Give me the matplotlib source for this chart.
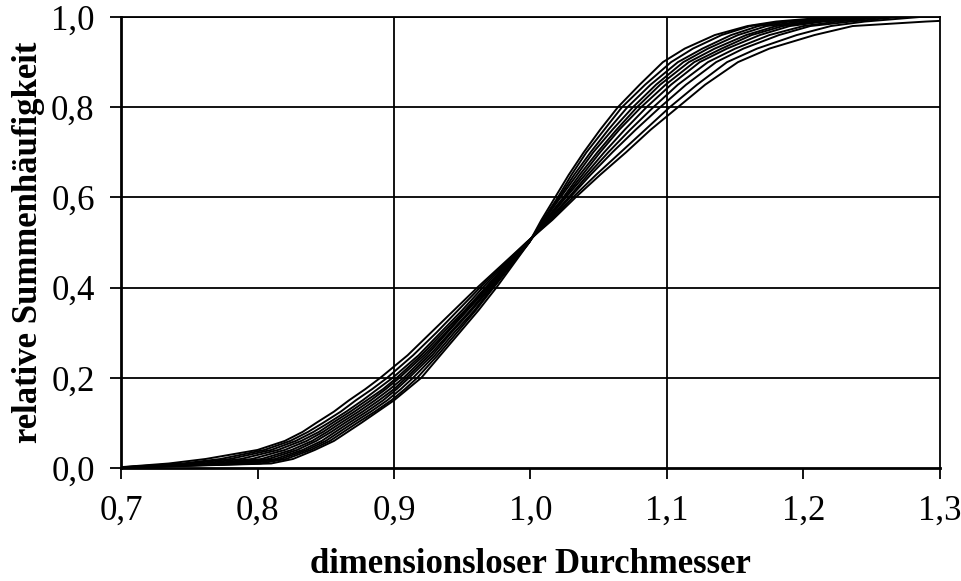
import matplotlib
matplotlib.use("Agg")
import matplotlib.pyplot as plt

# cumulative levels at which the diameter of each run was read
levels = [0.0, 0.01, 0.02, 0.04, 0.06, 0.08, 0.10, 0.125, 0.15, 0.175, 0.20, 0.25, 0.30, 0.35,
          0.40, 0.45, 0.50, 0.55, 0.60, 0.65, 0.70, 0.75, 0.80, 0.85, 0.90, 0.93, 0.96, 0.98,
          0.99, 1.0]

# dimensionless diameter d/d50 of each run at these levels
run_1 = [0.692, 0.735, 0.762, 0.800, 0.820, 0.833, 0.843, 0.856, 0.867, 0.879, 0.890, 0.910, 0.927, 0.944,
         0.961, 0.979, 0.997, 1.016, 1.033, 1.051, 1.070, 1.088, 1.108, 1.128, 1.152, 1.175, 1.208, 1.236,
         1.290, 1.360]
run_2 = [0.692, 0.745, 0.773, 0.805, 0.824, 0.837, 0.848, 0.861, 0.872, 0.884, 0.895, 0.914, 0.931, 0.947,
         0.963, 0.980, 0.997, 1.015, 1.031, 1.048, 1.066, 1.084, 1.102, 1.122, 1.144, 1.166, 1.195, 1.220,
         1.245, 1.285]
run_3 = [0.692, 0.752, 0.780, 0.810, 0.828, 0.841, 0.852, 0.865, 0.877, 0.888, 0.899, 0.918, 0.934, 0.950,
         0.965, 0.981, 0.998, 1.014, 1.029, 1.044, 1.060, 1.077, 1.095, 1.114, 1.136, 1.156, 1.182, 1.205,
         1.235, 1.270]
run_4 = [0.692, 0.760, 0.788, 0.815, 0.832, 0.845, 0.855, 0.868, 0.880, 0.892, 0.902, 0.920, 0.936, 0.952,
         0.967, 0.982, 0.998, 1.013, 1.028, 1.042, 1.057, 1.073, 1.090, 1.108, 1.130, 1.150, 1.175, 1.200,
         1.225, 1.260]
run_5 = [0.692, 0.768, 0.796, 0.820, 0.836, 0.848, 0.858, 0.871, 0.883, 0.894, 0.904, 0.922, 0.938, 0.953,
         0.968, 0.983, 0.998, 1.012, 1.026, 1.040, 1.054, 1.069, 1.085, 1.103, 1.124, 1.144, 1.168, 1.190,
         1.215, 1.255]
run_6 = [0.692, 0.775, 0.803, 0.825, 0.840, 0.851, 0.861, 0.874, 0.886, 0.897, 0.907, 0.924, 0.939, 0.954,
         0.969, 0.984, 0.998, 1.012, 1.025, 1.038, 1.051, 1.065, 1.081, 1.099, 1.120, 1.140, 1.162, 1.185,
         1.210, 1.250]
run_7 = [0.692, 0.782, 0.808, 0.829, 0.843, 0.854, 0.864, 0.877, 0.889, 0.900, 0.909, 0.926, 0.941, 0.956,
         0.970, 0.984, 0.998, 1.011, 1.024, 1.036, 1.049, 1.063, 1.078, 1.095, 1.116, 1.135, 1.158, 1.180,
         1.205, 1.245]
run_8 = [0.692, 0.788, 0.813, 0.833, 0.847, 0.857, 0.867, 0.880, 0.892, 0.902, 0.911, 0.928, 0.942, 0.957,
         0.971, 0.985, 0.999, 1.010, 1.022, 1.034, 1.046, 1.060, 1.075, 1.092, 1.112, 1.130, 1.152, 1.173,
         1.198, 1.240]
run_9 = [0.692, 0.795, 0.817, 0.836, 0.850, 0.860, 0.870, 0.883, 0.895, 0.905, 0.914, 0.930, 0.944, 0.959,
         0.972, 0.985, 0.999, 1.010, 1.021, 1.032, 1.044, 1.057, 1.071, 1.088, 1.108, 1.126, 1.147, 1.167,
         1.190, 1.235]
run_10 = [0.692, 0.802, 0.821, 0.839, 0.853, 0.863, 0.873, 0.886, 0.898, 0.908, 0.917, 0.932, 0.946, 0.960,
          0.973, 0.986, 0.999, 1.009, 1.020, 1.030, 1.041, 1.054, 1.067, 1.084, 1.103, 1.119, 1.140, 1.161,
          1.185, 1.230]
run_11 = [0.692, 0.810, 0.826, 0.842, 0.856, 0.866, 0.876, 0.888, 0.900, 0.910, 0.920, 0.934, 0.948, 0.962,
          0.975, 0.987, 0.999, 1.008, 1.018, 1.028, 1.039, 1.051, 1.064, 1.080, 1.097, 1.113, 1.135, 1.159,
          1.180, 1.220]

x_ticks = [0.7, 0.8, 0.9, 1.0, 1.1, 1.2, 1.3]
x_grid = [0.9, 1.1]
y_ticks = [0.0, 0.2, 0.4, 0.6, 0.8, 1.0]

plt.rcParams['font.family'] = ['Liberation Serif', 'DejaVu Serif']

fig = plt.figure(figsize=(9.62, 5.81), dpi=100)
ax = fig.add_axes([0.1258, 0.1945, 0.8513, 0.7762])

for run in [run_1, run_2, run_3, run_4, run_5, run_6, run_7, run_8, run_9, run_10, run_11]:
    ax.plot(run, levels, color='black', lw=1.4, zorder=3)

# horizontal grid every 0.2, vertical only at 0.9 and 1.1
for y in y_ticks[1:]:
    ax.axhline(y, color='black', lw=1.3, zorder=1)
for x in x_grid:
    ax.axvline(x, color='black', lw=1.3, zorder=1)

ax.set_xlim(0.7, 1.3)
ax.set_ylim(0.0, 1.0)
ax.set_xticks(x_ticks)
ax.set_yticks(y_ticks)
ax.set_xticklabels([f"{v:.1f}".replace('.', ',') for v in x_ticks])
ax.set_yticklabels([f"{v:.1f}".replace('.', ',') for v in y_ticks])
ax.tick_params(axis='both', direction='out', length=8, width=1.3, labelsize=25, color='black')
ax.tick_params(axis='x', pad=11)
ax.tick_params(axis='y', pad=11)

for side in ['left', 'bottom']:
    ax.spines[side].set_linewidth(2.0)
for side in ['top', 'right']:
    ax.spines[side].set_linewidth(1.3)

ax.set_xlabel("dimensionsloser Durchmesser", fontsize=25, fontweight='bold', labelpad=15)
ax.set_ylabel("relative Summenhäufigkeit", fontsize=25, fontweight='bold', labelpad=4)

fig.savefig("out.png", dpi=100)
